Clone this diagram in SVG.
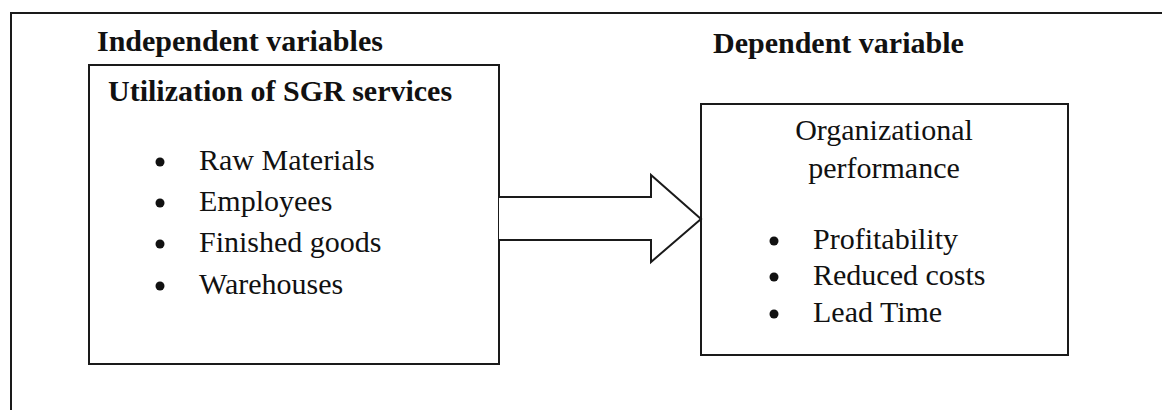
<svg xmlns="http://www.w3.org/2000/svg" width="1162" height="410" viewBox="0 0 1162 410">
<style>
.frame{fill:none;stroke:#1a1a1a;stroke-width:2}
.box{fill:#fff;stroke:#1a1a1a;stroke-width:2}
.h{font-family:"Liberation Serif","Times New Roman",serif;font-weight:bold;font-size:30px;fill:#111}
.t{font-family:"Liberation Serif","Times New Roman",serif;font-size:30px;fill:#111}
.dot{fill:#111}
</style>
<rect width="1162" height="410" fill="#fff"/>
<path class="frame" d="M11,412 V13 H1164"/>
<text class="h" x="97" y="51">Independent variables</text>
<text class="h" x="713" y="53">Dependent variable</text>
<g id="independent">
<rect class="box" x="89" y="65" width="410" height="299"/>
<text class="h" x="108" y="101">Utilization of SGR services</text>
<circle class="dot" cx="160" cy="162" r="4.5"/>
<text class="t" x="199" y="170">Raw Materials</text>
<circle class="dot" cx="160" cy="203" r="4.5"/>
<text class="t" x="199" y="211">Employees</text>
<circle class="dot" cx="160" cy="244" r="4.5"/>
<text class="t" x="199" y="252">Finished goods</text>
<circle class="dot" cx="160" cy="286" r="4.5"/>
<text class="t" x="199" y="294">Warehouses</text>
</g>
<g id="dependent">
<rect class="box" x="701" y="104" width="367" height="251"/>
<text class="t" x="884" y="140" text-anchor="middle">Organizational</text>
<text class="t" x="884" y="178" text-anchor="middle">performance</text>
<circle class="dot" cx="774" cy="241" r="4.5"/>
<text class="t" x="813" y="249">Profitability</text>
<circle class="dot" cx="774" cy="277" r="4.5"/>
<text class="t" x="813" y="285">Reduced costs</text>
<circle class="dot" cx="774" cy="314" r="4.5"/>
<text class="t" x="813" y="322">Lead Time</text>
</g>
<g id="connectors">
<path class="frame" d="M499,197 H651 V175 L701,219 L651,262 V240 H499" style="fill:#fff"/>
</g>
</svg>
